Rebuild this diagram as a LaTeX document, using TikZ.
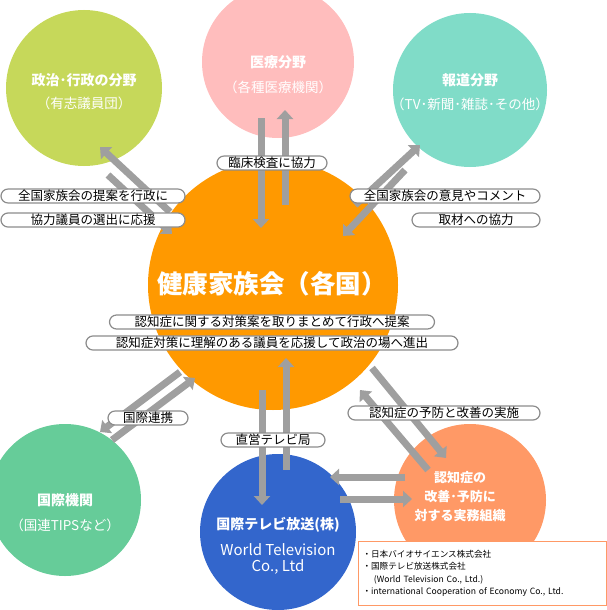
\documentclass[tikz,border=0pt]{standalone}
\usepackage{fontspec}
\setmainfont{Noto Sans CJK JP}
\usetikzlibrary{arrows.meta}
\begin{document}
\begin{tikzpicture}[x=1pt,y=-1pt,
 circ/.style={circle,draw=none,minimum size=#1},
 lbl/.style={draw=gray!90,line width=1.2pt,rounded corners=7pt,fill=white,inner sep=1.2pt,font=\fontsize{12.5}{14}\selectfont},
 tt/.style={text=white,font=\bfseries\fontsize{14}{16}\selectfont},
 st/.style={text=white,font=\fontsize{13.5}{16}\selectfont},
 arr/.style={line width=7pt,draw=gray!75,-{Triangle[length=9pt,width=16pt]}}]
\useasboundingbox (0,0) rectangle (606,610);
\fill[color={rgb,255:red,198;green,216;blue,90}] (84,88) circle (78);
\fill[color={rgb,255:red,255;green,189;blue,189}] (278,62) circle (76);
\fill[color={rgb,255:red,128;green,220;blue,200}] (470,90) circle (77);
\fill[color={rgb,255:red,102;green,204;blue,153}] (65,500) circle (76);
\fill[color={rgb,255:red,51;green,102;blue,204}] (278,532) circle (78);
\fill[color={rgb,255:red,255;green,153;blue,102}] (470,500) circle (76);
\fill[color={rgb,255:red,255;green,153;blue,0}] (273,285) circle (125);
% nodes for circles
\node[circ=10pt] (tl) at (84,88) {};
\node[circ=10pt] (tp) at (278,62) {};
\node[circ=10pt] (tr) at (470,90) {};
\node[circ=10pt] (ct) at (273,285) {};
\node[circ=10pt] (bl) at (65,500) {};
\node[circ=10pt] (bb) at (278,532) {};
\node[circ=10pt] (br) at (470,500) {};
% arrows
\coordinate (a1) at (261,118); \coordinate (a2) at (261,228);
\draw[arr] (a1) -- (a2);
\coordinate (a3) at (285,205); \coordinate (a4) at (285,110);
\draw[arr] (a3) -- (a4);
\coordinate (b1) at (170,212); \coordinate (b2) at (100,147);
\draw[arr] (b1) -- (b2);
\coordinate (b3) at (108,175); \coordinate (b4) at (172,234);
\draw[arr] (b3) -- (b4);
\coordinate (c1) at (355,205); \coordinate (c2) at (420,145);
\draw[arr] (c1) -- (c2);
\coordinate (c3) at (405,170); \coordinate (c4) at (343,236);
\draw[arr] (c3) -- (c4);
\coordinate (d1) at (180,372); \coordinate (d2) at (100,432);
\draw[arr] (d1) -- (d2);
\coordinate (d3) at (112,440); \coordinate (d4) at (195,378);
\draw[arr] (d3) -- (d4);
\coordinate (e1) at (262,390); \coordinate (e2) at (262,505);
\draw[arr] (e1) -- (e2);
\coordinate (e3) at (286,470); \coordinate (e4) at (286,358);
\draw[arr] (e3) -- (e4);
\coordinate (f1) at (372,368); \coordinate (f2) at (446,458);
\draw[arr] (f1) -- (f2);
\coordinate (f3) at (428,470); \coordinate (f4) at (360,390);
\draw[arr] (f3) -- (f4);
\coordinate (g1) at (405,477); \coordinate (g2) at (330,477);
\draw[arr] (g1) -- (g2);
\coordinate (g3) at (340,499); \coordinate (g4) at (412,499);
\draw[arr] (g3) -- (g4);
% labels
\node[lbl,minimum width=110pt] (l1) at (272,163) {臨床検査に協力};
\node[lbl,minimum width=184pt] (l2) at (93,196) {全国家族会の提案を行政に};
\node[lbl,minimum width=184pt] (l3) at (93,220) {協力議員の選出に応援};
\node[lbl,minimum width=190pt] (l4) at (445,196) {全国家族会の意見やコメント};
\node[lbl,minimum width=128pt] (l5) at (476,220) {取材への協力};
\node[font=\bfseries\fontsize{25.5}{30}\selectfont,text=white] (title) at (272,284) {健康家族会（各国）};
\node[lbl,minimum width=325pt] (l6) at (272,322) {認知症に関する対策案を取りまとめて行政へ提案};
\node[lbl,minimum width=372pt] (l7) at (272,343) {認知症対策に理解のある議員を応援して政治の場へ進出};
\node[lbl,minimum width=80pt] (l8) at (148,418) {国際連携};
\node[lbl,minimum width=104pt] (l9) at (273,440) {直営テレビ局};
\node[lbl,minimum width=192pt] (l10) at (444,413) {認知症の予防と改善の実施};
% circle texts
\node[tt] (t1) at (84,80) {政治･行政の分野};
\node[st] (s1) at (84,103) {（有志議員団）};
\node[tt] (t2) at (278,62) {医療分野};
\node[st] (s2) at (278,87) {（各種医療機関）};
\node[tt] (t3) at (470,80) {報道分野};
\node[st] (s3) at (470,104) {（TV･新聞･雑誌･その他）};
\node[tt] (t4) at (65,500) {国際機関};
\node[st] (s4) at (65,525) {（国連TIPSなど）};
\node[tt] (t5) at (278,525) {国際テレビ放送(株)};
\node[st,font=\fontsize{15}{17}\selectfont] (s5) at (278,550) {World Television};
\node[st,font=\fontsize{15}{17}\selectfont] (s6) at (278,567) {Co., Ltd};
\node[tt,align=center,font=\bfseries\fontsize{13}{19}\selectfont] (t6) at (460,497) {認知症の\\改善･予防に\\対する実務組織};
% legend
\node[draw={rgb,255:red,255;green,153;blue,102},line width=1pt,fill=white,minimum width=247pt,minimum height=64pt,anchor=north west,align=left,inner sep=4pt,font=\fontsize{8.6}{12.5}\selectfont,text width=240pt] (leg) at (358,541) {・日本バイオサイエンス株式会社\\・国際テレビ放送株式会社\\\ \ \ \ (World Television Co., Ltd.)\\・international Cooperation of Economy Co., Ltd.};
\end{tikzpicture}
\end{document}
